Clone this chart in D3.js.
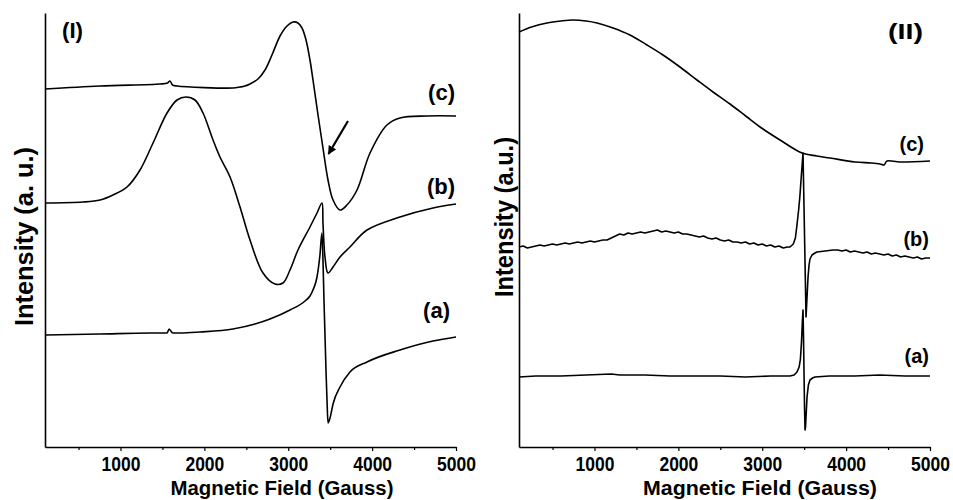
<!DOCTYPE html>
<html><head><meta charset="utf-8">
<script src="https://cdn.jsdelivr.net/npm/d3@7"></script>
<style>
body{margin:0;background:#fff}
svg{display:block}
text{font-family:"Liberation Sans",Arial,Helvetica,sans-serif;font-weight:bold;fill:#000}
</style>
</head><body>
<svg id="chart" width="953" height="500"></svg>
<script>
// ---------- DATA (field in Gauss, intensity in arbitrary units) ----------
const xTicks = [1000, 2000, 3000, 4000, 5000];
const xMinorTicks = [500, 1500, 2500, 3500, 4500];
const xTitle = "Magnetic Field (Gauss)";

// Panel (I)
const panel1_a = [[100,112],[756,113],[1352,114],[1555,114],[1580,118],[1600,116],[1626,114],[1710,114],[1948,115],[2341,118],[2604,123],[2782,128],[3021,137],[3200,146],[3259,151],[3295,157],[3343,170],[3378,192],[3402,214],[3414,187],[3426,147],[3450,77],[3462,47],[3474,24],[3498,29],[3534,43],[3617,60],[3736,75],[3939,85],[4332,97],[4726,106],[5000,110]];
const panel1_b = [[100,244],[553,245],[756,247],[911,252],[1078,260],[1233,277],[1388,304],[1555,334],[1674,347],[1781,350],[1888,347],[1984,334],[2103,307],[2186,290],[2306,270],[2425,240],[2544,207],[2699,174],[2842,163],[2937,164],[3021,177],[3116,197],[3259,220],[3343,234],[3402,244],[3414,224],[3438,190],[3474,174],[3534,180],[3617,190],[3736,200],[3939,217],[4332,230],[4726,239],[5000,243]];
const panel1_c = [[100,358],[756,361],[1471,363],[1560,364],[1590,366],[1620,362],[1674,361],[2341,359],[2425,360],[2484,361],[2544,363],[2639,368],[2723,377],[2806,392],[2902,411],[2985,421],[3057,425],[3116,424],[3164,419],[3212,407],[3259,387],[3295,367],[3355,332],[3414,299],[3474,267],[3534,247],[3617,237],[3700,242],[3820,257],[3975,294],[4177,322],[4332,329],[4654,331],[5000,331]];
const panel1_arrow = [[3712,326],[3480,293]];

// Panel (II)
const panel2_a = [[100,70],[300,71],[600,71],[900,72],[1200,73],[1300,72],[1600,72],[1900,71],[2200,71],[2500,71],[2800,70],[3100,71],[3331,71],[3380,72],[3414,75],[3440,80],[3455,88],[3468,105],[3478,125],[3486,137],[3492,110],[3498,75],[3504,40],[3510,17],[3516,20],[3522,30],[3534,50],[3550,62],[3569,67],[3600,69],[3629,70],[3800,71],[4100,71],[4400,72],[4700,71],[5000,71]];
const panel2_b = [[100,200],[150,201],[200,199],[250,200],[300,201],[350,202],[400,201],[450,202],[500,203],[550,202],[600,203],[650,204],[700,203],[750,204],[800,205],[850,204],[900,205],[950,206],[1000,205],[1050,206],[1100,207],[1150,207],[1200,209],[1250,211],[1300,213],[1350,212],[1400,214],[1450,213],[1500,214],[1550,215],[1600,214],[1650,215],[1700,216],[1750,217],[1800,215],[1850,216],[1900,215],[1950,214],[2000,215],[2050,213],[2100,213],[2150,212],[2200,211],[2250,210],[2300,211],[2350,209],[2400,208],[2450,209],[2500,207],[2550,206],[2600,207],[2650,205],[2700,205],[2750,204],[2800,205],[2850,203],[2900,204],[2950,202],[3000,203],[3050,201],[3100,202],[3150,200],[3200,201],[3250,199],[3300,200],[3331,200],[3370,203],[3395,209],[3414,222],[3435,238],[3450,252],[3465,270],[3478,285],[3486,294],[3498,240],[3510,185],[3522,130],[3534,150],[3546,170],[3558,182],[3569,188],[3593,192],[3629,194],[3653,195],[3750,196],[3843,197],[3900,197],[3950,196],[4000,197],[4050,195],[4100,196],[4150,195],[4200,194],[4250,195],[4300,193],[4350,194],[4400,193],[4450,192],[4500,193],[4550,191],[4600,192],[4650,190],[4700,191],[4750,190],[4800,189],[4850,190],[4900,188],[4950,189],[5000,189]];
const panel2_c = [[100,415],[250,420],[434,424],[600,426],[744,427],[900,426],[1030,424],[1221,419],[1423,412],[1626,402],[1817,392],[2019,380],[2222,367],[2413,355],[2616,343],[2818,330],[3009,318],[3212,307],[3474,294],[3650,291],[3808,289],[4106,285],[4300,284],[4404,283],[4452,282],[4487,286],[4642,285],[5000,286]];

// ---------- LAYOUT ----------
const svg = d3.select("#chart");
const yDomain = [0, 434];
const smooth = d3.curveCatmullRom.alpha(0.5);
const panels = [
  { x0: 45, x1: 456, top: 13, bottom: 447, tag: "(I)", tagX: 62, tagY: 38, tagLen: 21,
    yTitle: "Intensity (a. u.)", yTitleX: 33, yTitleY: 236.5, yTitleLen: 179,
    xTitleX: 282, xTitleLen: 223,
    series: [
      {data: panel1_a, curve: d3.curveMonotoneX, label: "(a)", lx: 450, ly: 318, fs: 22},
      {data: panel1_b, curve: smooth, label: "(b)", lx: 455, ly: 194, fs: 22},
      {data: panel1_c, curve: smooth, label: "(c)", lx: 455, ly: 100, fs: 22}
    ], arrow: panel1_arrow },
  { x0: 519, x1: 930, top: 13, bottom: 447, tag: "(II)", tagX: 888, tagY: 39, tagLen: 35,
    yTitle: "Intensity (a.u.)", yTitleX: 513, yTitleY: 217, yTitleLen: 160,
    xTitleX: 760, xTitleLen: 234,
    series: [
      {data: panel2_a, curve: d3.curveLinear, label: "(a)", lx: 929, ly: 363, fs: 20},
      {data: panel2_b, curve: d3.curveLinear, label: "(b)", lx: 929, ly: 246, fs: 20},
      {data: panel2_c, curve: smooth, label: "(c)", lx: 924, ly: 151, fs: 20}
    ] }
];

svg.append("defs").append("marker")
  .attr("id", "arrowhead").attr("viewBox", "0 0 10 10")
  .attr("refX", 9).attr("refY", 5)
  .attr("markerWidth", 4).attr("markerHeight", 4)
  .attr("orient", "auto")
  .append("path").attr("d", "M0,0 L10,5 L0,10 z").attr("fill", "#000");

panels.forEach(p => {
  const x = d3.scaleLinear().domain([100, 5000]).range([p.x0, p.x1]);
  const y = d3.scaleLinear().domain(yDomain).range([p.bottom, p.top]);
  const g = svg.append("g");

  // bottom axis (major)
  const ax = g.append("g").attr("transform", `translate(0,${p.bottom})`)
    .call(d3.axisBottom(x).tickValues(xTicks).tickSize(4).tickSizeOuter(0).tickFormat(d3.format("d")));
  ax.select(".domain").attr("stroke", "#000").attr("stroke-width", 1.6);
  ax.selectAll(".tick line").attr("stroke", "#000").attr("stroke-width", 1.2);
  ax.selectAll(".tick text")
    .attr("y", 0).attr("dy", 0)
    .attr("transform", "translate(0,24) scale(1,1.18)")
    .style("font-size", "17.5px").style("font-weight", "bold")
    .style("font-family", '"Liberation Sans",Arial,sans-serif').attr("fill", "#000");
  // minor ticks
  const axm = g.append("g").attr("transform", `translate(0,${p.bottom})`)
    .call(d3.axisBottom(x).tickValues(xMinorTicks).tickSize(3).tickFormat(""));
  axm.select(".domain").remove();
  axm.selectAll(".tick line").attr("stroke", "#000").attr("stroke-width", 1.2);

  // left axis line
  const ay = g.append("g").attr("transform", `translate(${p.x0},0)`)
    .call(d3.axisLeft(y).tickValues([]).tickSizeOuter(0));
  ay.select(".domain").attr("stroke", "#000").attr("stroke-width", 1.6);

  // curves
  p.series.forEach(s => {
    const line = d3.line().x(d => x(d[0])).y(d => y(d[1])).curve(s.curve);
    g.append("path").datum(s.data).attr("d", line)
      .attr("fill", "none").attr("stroke", "#000").attr("stroke-width", 1.6)
      .attr("stroke-linejoin", "round");
    g.append("text").attr("x", s.lx).attr("y", s.ly)
      .attr("text-anchor", "end").style("font-size", s.fs + "px").text(s.label);
  });

  // arrow annotation
  if (p.arrow) {
    g.append("line")
      .attr("x1", x(p.arrow[0][0])).attr("y1", y(p.arrow[0][1]))
      .attr("x2", x(p.arrow[1][0])).attr("y2", y(p.arrow[1][1]))
      .attr("stroke", "#000").attr("stroke-width", 2.2)
      .attr("marker-end", "url(#arrowhead)");
  }

  // panel tag
  g.append("text").attr("x", p.tagX).attr("y", p.tagY)
    .style("font-size", "22px")
    .attr("textLength", p.tagLen).attr("lengthAdjust", "spacingAndGlyphs")
    .text(p.tag);

  // axis titles
  g.append("text").attr("x", p.xTitleX).attr("y", 495)
    .attr("text-anchor", "middle").style("font-size", "20px")
    .attr("textLength", p.xTitleLen).attr("lengthAdjust", "spacingAndGlyphs")
    .text(xTitle);
  g.append("text")
    .attr("transform", `translate(${p.yTitleX},${p.yTitleY}) rotate(-90)`)
    .attr("text-anchor", "middle").style("font-size", "25px")
    .attr("textLength", p.yTitleLen).attr("lengthAdjust", "spacingAndGlyphs")
    .text(p.yTitle);
});
</script>
</body></html>
